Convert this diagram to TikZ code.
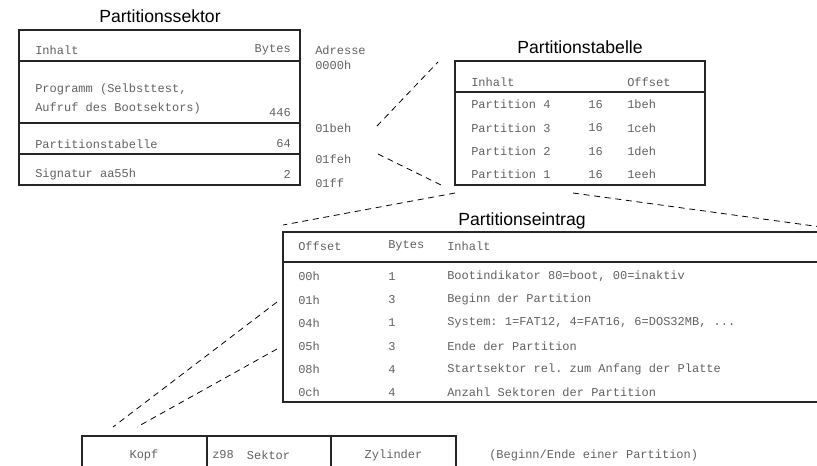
\documentclass[tikz,border=0pt]{standalone}
\usepackage{fontspec}
\setmainfont{Liberation Sans}
\setmonofont{Liberation Mono}
\begin{document}
\begin{tikzpicture}[x=0.75pt,y=-0.75pt,
    txt/.style={font=\ttfamily\fontsize{9}{10}\selectfont, text=black!62, inner sep=0pt},
    ttl/.style={font=\fontsize{13.2}{15}\selectfont, inner sep=0pt},
    box/.style={draw=black!85, line width=0.8pt},
    link/.style={draw=black, line width=0.6pt, dash pattern=on 4.5pt off 3.5pt}]

    \clip (0,0) rectangle (817,465);

    % Partitionssektor
    \node[ttl] (sektortitel) at (160,16) {Partitionssektor};
    \draw[box] (19,30) rectangle (300,185);
    \draw[box] (19,61)--(300,61);
    \draw[box] (19,123)--(300,123);
    \draw[box] (19,154)--(300,154);
    \node[txt, anchor=west] (sinhalt) at (35,50) {Inhalt};
    \node[txt, anchor=east] (sbytes) at (291,50) {Bytes};
    \node[txt, anchor=west] (sprog) at (35,89) {Programm (Selbsttest,};
    \node[txt, anchor=west] (saufruf) at (35,108) {Aufruf des Bootsektors)};
    \node[txt, anchor=east] (sprogb) at (291,113) {446};
    \node[txt, anchor=west] (stab) at (35,144) {Partitionstabelle};
    \node[txt, anchor=east] (stabb) at (291,144) {64};
    \node[txt, anchor=west] (ssig) at (35,174) {Signatur aa55h};
    \node[txt, anchor=east] (ssigb) at (291,174) {2};

    % Adressen
    \node[txt, anchor=west] (adresse) at (315,50) {Adresse};
    \node[txt, anchor=west] (adr0000) at (315,65) {0000h};
    \node[txt, anchor=west] (adr01be) at (315,128) {01beh};
    \node[txt, anchor=west] (adr01fe) at (315,159) {01feh};
    \node[txt, anchor=west] (adr01ff) at (315,183) {01ff};

    % Partitionstabelle
    \node[ttl] (tabtitel) at (580,47) {Partitionstabelle};
    \draw[box] (455,61) rectangle (705,185);
    \draw[box] (455,92)--(705,92);
    \node[txt, anchor=west] (tinhalt) at (471,82) {Inhalt};
    \node[txt, anchor=west] (toffset) at (627,82) {Offset};
    \foreach \nr/\off [count=\i] in {4/1beh, 3/1ceh, 2/1deh, 1/1eeh}{
        \node[txt, anchor=west] (tpart\i) at (471,81+23.4*\i) {Partition \nr};
        \node[txt, anchor=east] (tlen\i) at (603,81+23.4*\i) {16};
        \node[txt, anchor=west] (toff\i) at (627,81+23.4*\i) {\off};
    }

    % Partitionseintrag
    \node[ttl] (eintitel) at (522,221) {Partitionseintrag};
    \draw[box] (283,232) rectangle (858,402);
    \draw[box] (283,262)--(858,262);
    \node[txt, anchor=west] (eoffset) at (298,246) {Offset};
    \node[txt, anchor=west] (ebytes) at (388,246) {Bytes};
    \node[txt, anchor=west] (einhalt) at (447,246) {Inhalt};
    \foreach \off/\len/\inh [count=\i] in {
        00h/1/{Bootindikator 80=boot, 00=inaktiv},
        01h/3/{Beginn der Partition},
        04h/1/{System: 1=FAT12, 4=FAT16, 6=DOS32MB, ...},
        05h/3/{Ende der Partition},
        08h/4/{Startsektor rel. zum Anfang der Platte},
        0ch/4/{Anzahl Sektoren der Partition}}{
        \node[txt, anchor=west] (eoff\i) at (298,253.5+23.15*\i) {\off};
        \node[txt, anchor=west] (elen\i) at (388,253.5+23.15*\i) {\len};
        \node[txt, anchor=west] (einh\i) at (447,253.5+23.15*\i) {\inh};
    }

    % Beginn/Ende
    \draw[box] (82,436) rectangle (456,490);
    \draw[box] (207,436)--(207,490);
    \draw[box] (331,436)--(331,490);
    \node[txt] (kopf) at (144,455) {Kopf};
    \node[txt, anchor=west] (zahl) at (212,455) {z98};
    \node[txt] (sektor) at (268.5,455) {Sektor};
    \node[txt] (zylinder) at (393.5,455) {Zylinder};
    \node[txt, anchor=west] (hinweis) at (489,455) {(Beginn/Ende einer Partition)};

    % Verbindungen
    \coordinate (l1a) at (377,126);
    \coordinate (l1b) at (438,62);
    \coordinate (l2a) at (378,154);
    \coordinate (l2b) at (441,185);
    \coordinate (l3a) at (455,193);
    \coordinate (l3b) at (283,225);
    \coordinate (l4a) at (573,193);
    \coordinate (l4b) at (858,232);
    \coordinate (l5a) at (277,302);
    \coordinate (l5b) at (113,427);
    \coordinate (l6a) at (277,349);
    \coordinate (l6b) at (137,427);
    \draw[link] (l1a)--(l1b);
    \draw[link] (l2a)--(l2b);
    \draw[link] (l3a)--(l3b);
    \draw[link] (l4a)--(l4b);
    \draw[link] (l5a)--(l5b);
    \draw[link] (l6a)--(l6b);

\end{tikzpicture}
\end{document}
